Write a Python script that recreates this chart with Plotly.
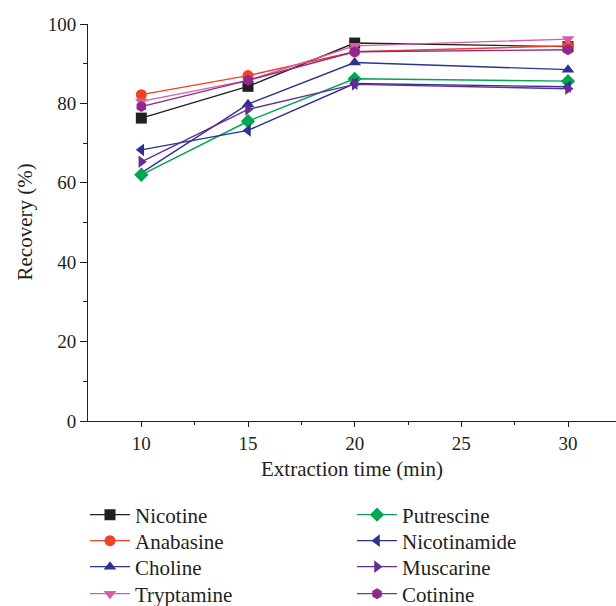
import plotly.graph_objects as go

times = [10, 15, 20, 30]
nicotine = [76.3, 84.3, 95.2, 94.3]
anabasine = [82.2, 87.0, 93.0, 94.5]
choline = [62.5, 79.8, 90.3, 88.5]
tryptamine = [80.5, 85.8, 94.5, 96.2]
putrescine = [62.0, 75.5, 86.2, 85.6]
nicotinamide = [68.3, 73.2, 85.0, 84.2]
muscarine = [65.3, 78.5, 84.8, 83.7]
cotinine = [79.2, 85.8, 93.0, 93.5]

names = ["Nicotine", "Anabasine", "Choline", "Tryptamine",
         "Putrescine", "Nicotinamide", "Muscarine", "Cotinine"]
values = [nicotine, anabasine, choline, tryptamine,
          putrescine, nicotinamide, muscarine, cotinine]
colors = ["#231f20", "#ef4123", "#2e3192", "#d55fa6",
          "#00a651", "#2e3192", "#662d91", "#92278f"]
symbols = ["square", "circle", "triangle-up", "triangle-down",
           "diamond", "triangle-left", "triangle-right", "hexagon"]

FONT = "Liberation Serif"

# legend entry positions (container pixels): two columns, four rows
col_x = [85, 352]
row_y = [515, 541, 567, 594]

fig = go.Figure()
legend_layouts = {}
for i, (name, vals, color, sym) in enumerate(zip(names, values, colors, symbols)):
    key = "legend" if i == 0 else f"legend{i + 1}"
    fig.add_trace(go.Scatter(
        x=times, y=vals, name=name, mode="lines+markers",
        line=dict(color=color, width=1.4),
        marker=dict(symbol=sym, size=11, color=color),
        legend=key,
    ))
    legend_layouts[key] = dict(
        orientation="v", yanchor="middle", xanchor="left",
        xref="container", yref="container",
        x=col_x[i // 4] / 616, y=(606 - row_y[i % 4]) / 606,
        font=dict(family=FONT, size=21, color="#231f20"),
        bgcolor="rgba(0,0,0,0)", itemwidth=40,
    )

fig.update_layout(
    width=616, height=606,
    margin=dict(l=88, r=0, t=24, b=185, autoexpand=False),
    plot_bgcolor="white", paper_bgcolor="white",
    font=dict(family=FONT, size=19, color="#231f20"),
    showlegend=True,
    **legend_layouts,
    xaxis=dict(
        range=[7.5, 32.25], tickvals=[10, 15, 20, 25, 30],
        ticks="outside", ticklen=5, tickcolor="#231f20", tickwidth=1,
        showline=True, linecolor="#231f20", linewidth=1,
        showgrid=False, zeroline=False, automargin=True,
        minor=dict(tickvals=[12.5, 17.5, 22.5, 27.5], ticks="outside",
                   ticklen=3, tickcolor="#231f20", showgrid=False),
        title=dict(text="Extraction time (min)", standoff=8,
                   font=dict(family=FONT, size=21)),
        tickfont=dict(family=FONT, size=19),
    ),
    yaxis=dict(
        range=[0, 100], tickvals=[0, 20, 40, 60, 80, 100],
        ticks="outside", ticklen=7, tickcolor="#231f20", tickwidth=1,
        showline=True, linecolor="#231f20", linewidth=1,
        showgrid=False, zeroline=False, automargin=True,
        minor=dict(tickvals=[10, 30, 50, 70, 90], ticks="outside",
                   ticklen=4, tickcolor="#231f20", showgrid=False),
        tickfont=dict(family=FONT, size=19),
    ),
    annotations=[dict(
        text="Recovery (%)", textangle=-90, showarrow=False,
        xref="paper", yref="paper", x=(24 - 88) / 528, y=0.5,
        xanchor="center", yanchor="middle",
        font=dict(family=FONT, size=21, color="#231f20"),
    )],
)

fig.write_html("out.html", config={"displayModeBar": False},
               post_script="document.body.style.margin='0';")
